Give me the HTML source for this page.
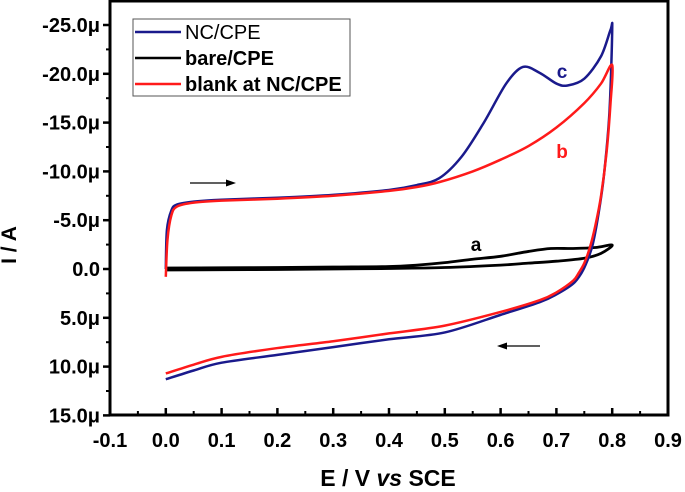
<!DOCTYPE html>
<html><head><meta charset="utf-8"><style>
body{margin:0;background:#fff;}
svg{display:block;font-family:"Liberation Sans",Arial,sans-serif;font-weight:bold;}
</style></head><body>
<svg id="chart" width="685" height="492" viewBox="0 0 685 492" xmlns="http://www.w3.org/2000/svg">
<rect x="110" y="1" width="558" height="414" fill="#fff" stroke="#000" stroke-width="3"/>
<g id="axes"></g>
<g id="series"></g>
<text x="16" y="245" font-size="21" text-anchor="middle" transform="rotate(-90 16 245)">I / A</text>
<text x="388" y="486" font-size="23" text-anchor="middle">E / V <tspan font-style="italic">vs</tspan> SCE</text>
<text x="562" y="78" font-size="19" fill="#1a1a8c" text-anchor="middle">c</text>
<text x="562" y="158" font-size="19" fill="#ff1a1a" text-anchor="middle">b</text>
<text x="476" y="251" font-size="19" fill="#000" text-anchor="middle">a</text>
<g><line x1="190" y1="183" x2="228" y2="183" stroke="#000" stroke-width="1.2"/><polygon points="236,183 226,179.5 226,186.5" fill="#000"/></g>
<g><line x1="505" y1="346" x2="540" y2="346" stroke="#000" stroke-width="1.2"/><polygon points="497,346 507,342.5 507,349.5" fill="#000"/></g>
<g>
<rect x="133" y="19" width="217" height="77" fill="#fff" stroke="#555" stroke-width="1"/>
<g><line x1="135" y1="32" x2="181" y2="32" stroke="#1a1a8c" stroke-width="2.5"/><text x="185" y="39" font-size="20" font-weight="normal">NC/CPE</text></g>
<g><line x1="135" y1="58" x2="181" y2="58" stroke="#000" stroke-width="2.5"/><text x="185" y="65" font-size="20">bare/CPE</text></g>
<g><line x1="135" y1="84" x2="181" y2="84" stroke="#ff1a1a" stroke-width="2.5"/><text x="185" y="91" font-size="20">blank at NC/CPE</text></g>
</g>
</svg>
<script>
const xTicks=[-0.1,0,0.1,0.2,0.3,0.4,0.5,0.6,0.7,0.8,0.9];
const xTickLabels=["-0.1","0.0","0.1","0.2","0.3","0.4","0.5","0.6","0.7","0.8","0.9"];
const yTicks=[-25,-20,-15,-10,-5,0,5,10,15];
const yTickLabels=["-25.0μ","-20.0μ","-15.0μ","-10.0μ","-5.0μ","0.0","5.0μ","10.0μ","15.0μ"];
// NC/CPE (blue)
const ncE=[0,0.002,0.01,0.02,0.05,0.1,0.2,0.3,0.4,0.45,0.49,0.53,0.57,0.61,0.64,0.67,0.7,0.72,0.75,0.78,0.797,0.8,0.795,0.785,0.775,0.765,0.755,0.745,0.73,0.7,0.67,0.6,0.5,0.4,0.3,0.2,0.1,0.05,0];
const ncI=[0,-4,-6.0,-6.6,-6.9,-7.1,-7.3,-7.6,-8.1,-8.6,-9.3,-11.5,-15,-19,-20.7,-20.1,-19.0,-18.8,-19.5,-21.8,-24.5,-24.5,-16,-9.5,-5.5,-2.5,-0.8,0.4,1.5,2.6,3.4,4.7,6.5,7.2,8.0,8.8,9.6,10.4,11.3];
// blank at NC/CPE (red)
const blE=[0,0.003,0.01,0.02,0.05,0.1,0.2,0.3,0.4,0.45,0.49,0.55,0.6,0.65,0.7,0.75,0.78,0.8,0.797,0.79,0.78,0.77,0.76,0.75,0.74,0.73,0.7,0.67,0.6,0.5,0.4,0.3,0.2,0.1,0.05,0];
const blI=[0.8,-3,-5.5,-6.4,-6.8,-7.0,-7.2,-7.5,-8.0,-8.4,-8.9,-10.0,-11.2,-12.6,-14.5,-17.0,-19.0,-20.9,-17,-12,-7.5,-4.5,-2.2,-0.6,0.4,1.2,2.4,3.2,4.4,5.8,6.6,7.4,8.1,9.0,9.8,10.7];
// bare/CPE (black)
const bcE=[0,0.1,0.2,0.3,0.4,0.45,0.5,0.55,0.6,0.65,0.69,0.73,0.77,0.8,0.78,0.75,0.7,0.65,0.6,0.5,0.4,0.3,0.2,0.1,0];
const bcI=[-0.1,-0.12,-0.15,-0.2,-0.25,-0.4,-0.65,-1.0,-1.3,-1.8,-2.1,-2.1,-2.2,-2.45,-1.6,-1.1,-0.8,-0.6,-0.4,-0.15,-0.05,0,0.05,0.08,0.1];

const X0=110,XS=558/1.0;
const xs=v=>X0+(v+0.1)*XS;
const ys=v=>269+v*9.76;
const NS="http://www.w3.org/2000/svg";
const axes=document.getElementById('axes');
function mk(tag,attrs,parent){const e=document.createElementNS(NS,tag);for(const k in attrs)e.setAttribute(k,attrs[k]);parent.appendChild(e);return e;}
xTicks.forEach((t,i)=>{
  const x=xs(t);
  const tk=mk('line',{x1:x,y1:415,x2:x,y2:408,stroke:'#000','stroke-width':2.5},axes);
  
  
  if(i<xTicks.length-1){const m=mk('line',{x1:x+XS*0.05,y1:415,x2:x+XS*0.05,y2:411,stroke:'#000','stroke-width':2},axes);
    
    }
  const lb=mk('text',{x:x,y:447,'font-size':20,'text-anchor':'middle'},axes);
  lb.textContent=xTickLabels[i];
  
  
});
yTicks.forEach((t,i)=>{
  const y=ys(t);
  const tk=mk('line',{x1:103,y1:y,x2:110,y2:y,stroke:'#000','stroke-width':2.5},axes);
  
  
  if(i<yTicks.length-1){const m=mk('line',{x1:106,y1:y+24.4,x2:110,y2:y+24.4,stroke:'#000','stroke-width':2},axes);
    
    }
  const lb=mk('text',{x:100,y:y+7,'font-size':20,'text-anchor':'end'},axes);
  lb.textContent=yTickLabels[i];
  
  
});
function pathD(E,I){
  const p=E.map((e,i)=>[xs(e),ys(I[i])]);
  let d='M'+p[0][0]+','+p[0][1];
  for(let i=0;i<p.length-1;i++){
    const p0=p[Math.max(0,i-1)],p1=p[i],p2=p[i+1],p3=p[Math.min(p.length-1,i+2)];
    const t=0.16;
    d+=' C'+(p1[0]+(p2[0]-p0[0])*t)+','+(p1[1]+(p2[1]-p0[1])*t)+' '+(p2[0]-(p3[0]-p1[0])*t)+','+(p2[1]-(p3[1]-p1[1])*t)+' '+p2[0]+','+p2[1];
  }
  return d;
}
const sg=document.getElementById('series');
const s1=mk('path',{d:pathD(bcE,bcI),fill:'none',stroke:'#000','stroke-width':2.8},sg);


const s2=mk('path',{d:pathD(ncE,ncI),fill:'none',stroke:'#1a1a8c','stroke-width':2.5},sg);


const s3=mk('path',{d:pathD(blE,blI),fill:'none',stroke:'#ff1a1a','stroke-width':2.5},sg);


</script>
</body></html>
